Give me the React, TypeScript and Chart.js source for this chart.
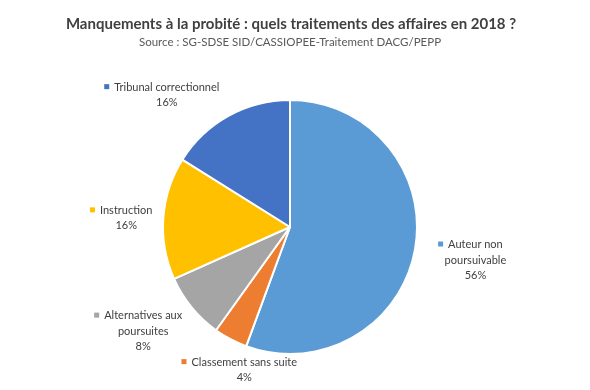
import React, { useEffect, useRef } from 'react';
import { Chart, registerables } from 'chart.js';
Chart.register(...registerables);

const categories = [
  'Auteur non poursuivable',
  'Classement sans suite',
  'Alternatives aux poursuites',
  'Instruction',
  'Tribunal correctionnel',
];
const values = [55.6, 4.3, 8.4, 15.6, 16.1];
const labelLines = [
  ['Auteur non', 'poursuivable'],
  ['Classement sans suite'],
  ['Alternatives aux', 'poursuites'],
  ['Instruction'],
  ['Tribunal correctionnel'],
];
const titleText = 'Manquements à la probité : quels traitements des affaires en 2018 ?';
const subtitleText = 'Source : SG-SDSE SID/CASSIOPEE-Traitement DACG/PEPP';

// styles / layout (kept apart from data)
const colors = ['#5B9BD5', '#ED7D31', '#A5A5A5', '#FFC000', '#4472C4'];
const labelOffsets = [
  [1.46, 0.26],
  [-0.36, 1.125],
  [-1.156, 0.82],
  [-1.29, -0.07],
  [-0.97, -1.04],
];
const FONT = 'Lato, "Open Sans", sans-serif';

const labelPlugin = {
  id: 'customLabels',
  afterDraw(chart: any) {
    const ctx = chart.ctx;
    const w = chart.width;
    ctx.save();
    ctx.textAlign = 'center';
    ctx.textBaseline = 'middle';
    ctx.fillStyle = '#404040';
    ctx.font = `bold 15px ${FONT}`;
    ctx.fillText(titleText, w / 2 - 4, 24);
    ctx.fillStyle = '#595959';
    ctx.font = `11.5px ${FONT}`;
    ctx.fillText(subtitleText, w / 2 - 5, 42);

    const meta = chart.getDatasetMeta(0);
    const first: any = meta.data[0];
    const cx = first.x;
    const cy = first.y;
    const r = first.outerRadius;
    const total = values.reduce((a, b) => a + b, 0);
    const lineH = 15.5;
    ctx.font = `11px ${FONT}`;
    values.forEach((v, i) => {
      const lines = [...labelLines[i], `${Math.round((v / total) * 100)}%`];
      const ax = cx + labelOffsets[i][0] * r;
      const ay = cy + labelOffsets[i][1] * r;
      const y0 = ay - ((lines.length - 1) * lineH) / 2;
      ctx.fillStyle = '#404040';
      lines.forEach((t, k) => ctx.fillText(t, ax, y0 + k * lineH));
      const w0 = ctx.measureText(lines[0]).width;
      ctx.fillStyle = colors[i];
      ctx.fillRect(ax - w0 / 2 - 10, y0 - 3, 5, 5);
    });
    ctx.restore();
  },
};

export default function App() {
  const ref = useRef<HTMLCanvasElement>(null);
  useEffect(() => {
    if (!ref.current) return;
    const chart = new Chart(ref.current, {
      type: 'pie',
      data: {
        labels: categories,
        datasets: [
          {
            data: values,
            backgroundColor: colors,
            borderColor: '#ffffff',
            borderWidth: 2,
          },
        ],
      },
      options: {
        responsive: false,
        animation: false,
        layout: { padding: { top: 99, bottom: 35, left: 0, right: 10 } },
        plugins: {
          legend: { display: false },
          tooltip: { enabled: false },
          title: { display: false },
        },
      },
      plugins: [labelPlugin],
    });
    return () => chart.destroy();
  }, []);
  return (
    <div style={{ position: 'fixed', left: 0, top: 0, width: 590, height: 390, background: '#fff' }}>
      <canvas ref={ref} width={590} height={390} />
    </div>
  );
}
